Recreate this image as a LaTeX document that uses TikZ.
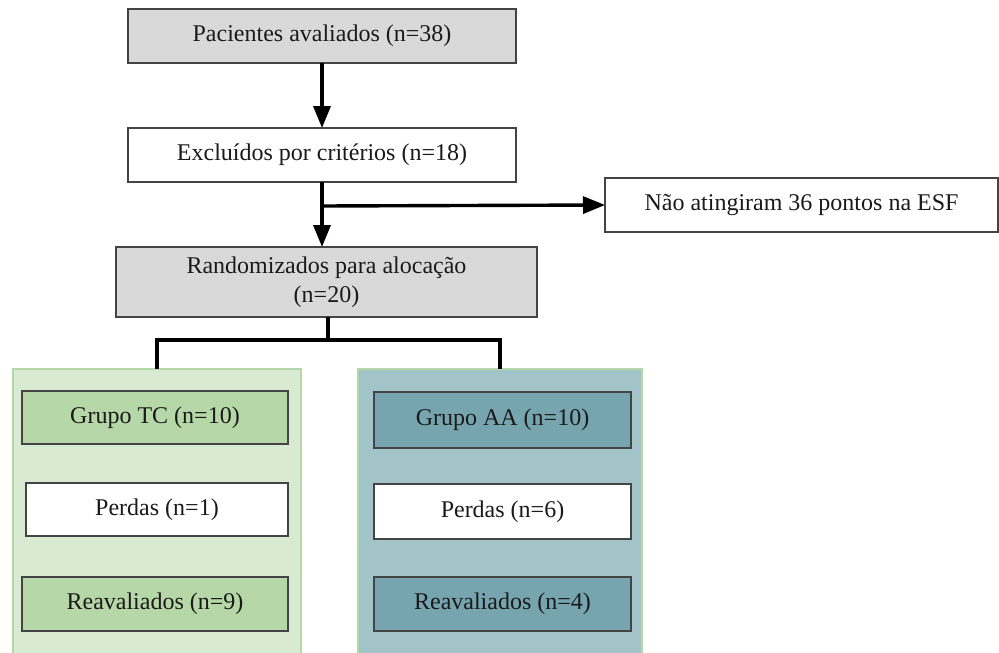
\documentclass[tikz,border=0pt]{standalone}
\usepackage{fontspec}
\setmainfont{Liberation Serif}
\usetikzlibrary{arrows.meta}
\definecolor{boxgray}{HTML}{D9D9D9}
\definecolor{panelgreen}{HTML}{D9EAD3}
\definecolor{boxgreen}{HTML}{B6D7A8}
\definecolor{panelblue}{HTML}{A2C4C9}
\definecolor{boxblue}{HTML}{76A5AF}
\definecolor{edgegray}{HTML}{444444}
\definecolor{txt}{HTML}{1A1A1A}
\tikzset{
  box/.style={draw=edgegray, line width=1.5pt, inner sep=0pt, outer sep=0pt,
    text=txt, font=\fontsize{24}{29}\selectfont, align=center},
  panel/.style={draw=boxgreen, line width=2pt, inner sep=0pt, outer sep=0pt},
  arr/.style={line width=3.4pt, -{Triangle[length=22pt,width=17pt]}},
  link/.style={line width=3.4pt},
}
\begin{document}
\begin{tikzpicture}[x=1pt,y=-1pt]
\useasboundingbox (0,0) rectangle (999,653);
\clip (0,0) rectangle (999,653);
% panels
\node[panel, fill=panelgreen, minimum width=288pt, minimum height=300pt, anchor=north] (gp) at (157,369) {};
\node[panel, fill=panelblue, minimum width=284pt, minimum height=300pt, anchor=north] (bp) at (500,369) {};
% boxes
\node[box, fill=boxgray, minimum width=388pt, minimum height=54pt] (p1) at (322,36) {Pacientes avaliados (n=38)};
\node[box, fill=white, minimum width=388pt, minimum height=54pt] (p2) at (322,155) {Excluídos por critérios (n=18)};
\node[box, fill=white, minimum width=393pt, minimum height=54pt] (nao) at (801.5,205) {Não atingiram 36 pontos na ESF};
\node[box, fill=boxgray, minimum width=421pt, minimum height=70pt] (rand) at (326.5,282) {Randomizados para alocação\\(n=20)};
\node[box, fill=boxgreen, minimum width=266pt, minimum height=53pt] (tc) at (155,417.5) {Grupo TC (n=10)};
\node[box, fill=white, minimum width=262pt, minimum height=53pt] (ptc) at (157,509.5) {Perdas (n=1)};
\node[box, fill=boxgreen, minimum width=266pt, minimum height=54pt] (rtc) at (155,604) {Reavaliados (n=9)};
\node[box, fill=boxblue, minimum width=257pt, minimum height=56pt] (aa) at (502.5,420) {Grupo AA (n=10)};
\node[box, fill=white, minimum width=257pt, minimum height=55pt] (paa) at (502.5,511.5) {Perdas (n=6)};
\node[box, fill=boxblue, minimum width=257pt, minimum height=54pt] (raa) at (502.5,604) {Reavaliados (n=4)};
% connectors
\draw[arr] (p1.south) -- (p2.north);
\coordinate (br) at (322,206);
\draw[arr] (br |- p2.south) -- (br |- rand.north);
\draw[arr] (br) -- (nao.west);
\coordinate (mid) at (328,340);
\draw[link] (mid |- rand.south) -- (mid);
\draw[link] (gp.north) -- (gp.north |- mid) -- (bp.north |- mid) -- (bp.north);
\end{tikzpicture}
\end{document}
